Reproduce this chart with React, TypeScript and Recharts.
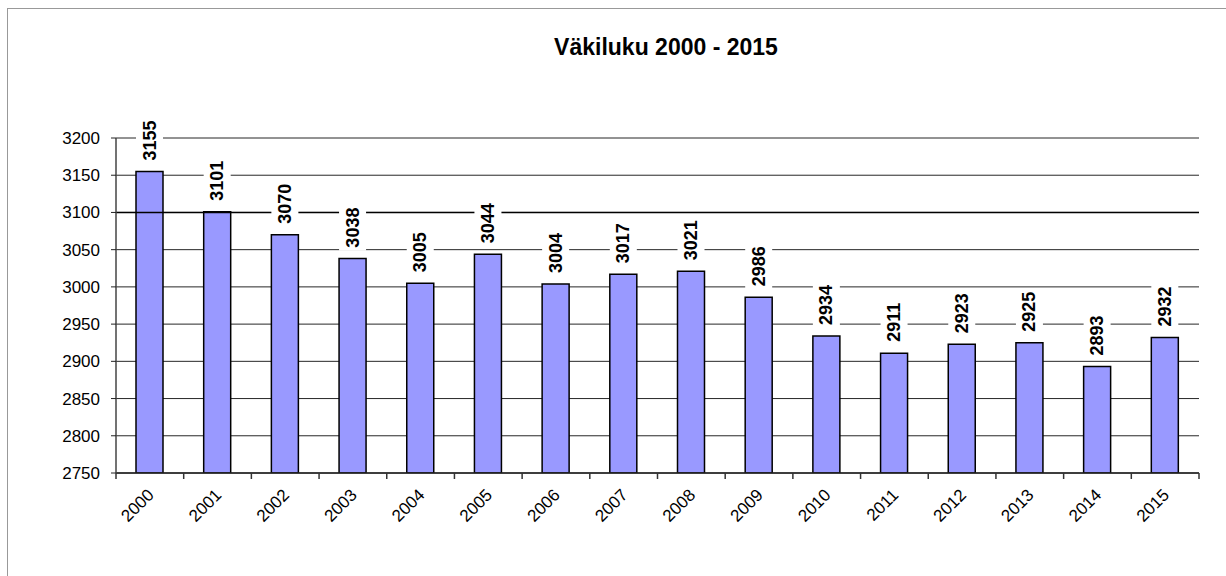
import React from 'react';
import { BarChart, Bar, XAxis, YAxis, CartesianGrid, LabelList, ReferenceLine } from 'recharts';

const title = 'Väkiluku 2000 - 2015';
const years = ['2000', '2001', '2002', '2003', '2004', '2005', '2006', '2007', '2008', '2009', '2010', '2011', '2012', '2013', '2014', '2015'];
const population = [3155, 3101, 3070, 3038, 3005, 3044, 3004, 3017, 3021, 2986, 2934, 2911, 2923, 2925, 2893, 2932];
const yTicks = [2750, 2800, 2850, 2900, 2950, 3000, 3050, 3100, 3150, 3200];

const data = years.map((year, i) => ({ year, value: population[i] }));

const W = 1226;
const H = 576;
const MARGIN = { top: 138, right: 27, bottom: 43, left: 0 };
const YAXIS_W = 116;
const XAXIS_H = 60;
const PLOT_W = W - MARGIN.left - MARGIN.right - YAXIS_W;
const BAND = PLOT_W / years.length;
const FONT = '"Liberation Sans", Arial, sans-serif';

const XTick = (props: any) => {
  const { x, y, payload, index } = props;
  const ax = x + 5;
  const ay = y + 23;
  return (
    <g>
      <line x1={x - BAND / 2} x2={x - BAND / 2} y1={y} y2={y + 6} stroke="#333" strokeWidth={1.5} />
      {index === years.length - 1 && (
        <line x1={x + BAND / 2} x2={x + BAND / 2} y1={y} y2={y + 6} stroke="#333" strokeWidth={1.5} />
      )}
      <text
        x={ax}
        y={ay}
        textAnchor="end"
        transform={`rotate(-45, ${ax}, ${ay})`}
        fontSize={17}
        fontFamily={FONT}
        fill="#000"
      >
        {payload.value}
      </text>
    </g>
  );
};

const BarLabel = (props: any) => {
  const { x, y, width, value } = props;
  const cx = x + width / 2;
  const cy = y - 31;
  return (
    <g>
      <rect x={cx - 13.5} y={cy - 23} width={27} height={46} fill="#fff" />
      <text
        x={cx}
        y={cy}
        textAnchor="middle"
        dominantBaseline="central"
        transform={`rotate(-90, ${cx}, ${cy})`}
        fontSize={18}
        fontWeight="bold"
        fontFamily={FONT}
        fill="#000"
      >
        {value}
      </text>
    </g>
  );
};

export default function App() {
  return (
    <div style={{ position: 'absolute', left: 0, top: 0, width: W, height: H, background: '#fff' }}>
      <div
        style={{
          position: 'absolute',
          left: 7,
          top: 8,
          width: W - 7,
          height: H - 8,
          borderTop: '1px solid #999',
          borderLeft: '1px solid #999',
          boxSizing: 'border-box',
        }}
      />
      <div
        style={{
          position: 'absolute',
          left: 666,
          top: 36,
          transform: 'translateX(-50%)',
          fontFamily: FONT,
          fontWeight: 'bold',
          fontSize: 23,
          lineHeight: '23px',
          whiteSpace: 'nowrap',
          color: '#000',
        }}
      >
        {title}
      </div>
      <div style={{ position: 'absolute', left: 0, top: 0 }}>
        <BarChart width={W} height={H} data={data} margin={MARGIN}>
          <CartesianGrid yAxisId="left" vertical={false} stroke="#000" strokeOpacity={0.85} />
          <XAxis
            dataKey="year"
            height={XAXIS_H}
            interval={0}
            tickLine={false}
            tickSize={0}
            tickMargin={0}
            axisLine={{ stroke: '#222', strokeWidth: 1.5 }}
            tick={<XTick />}
          />
          <YAxis
            yAxisId="left"
            width={YAXIS_W}
            domain={[2750, 3200]}
            ticks={yTicks}
            interval={0}
            allowDataOverflow
            tickSize={5}
            tickMargin={11}
            tickLine={{ stroke: '#222' }}
            axisLine={{ stroke: '#444', strokeWidth: 1.5 }}
            tick={{ fontSize: 17, fill: '#000', fontFamily: FONT }}
          />
          <YAxis
            yAxisId="right"
            orientation="right"
            width={0}
            domain={[2750, 3200]}
            tick={false}
            tickLine={false}
            axisLine={{ stroke: '#999', strokeWidth: 1.5 }}
          />
          <ReferenceLine yAxisId="left" y={3100} stroke="#000" strokeWidth={1.6} />
          <Bar
            yAxisId="left"
            dataKey="value"
            barSize={27}
            fill="#9999FF"
            stroke="#000"
            strokeWidth={1.5}
            isAnimationActive={false}
          >
            <LabelList dataKey="value" content={<BarLabel />} />
          </Bar>
        </BarChart>
      </div>
    </div>
  );
}
